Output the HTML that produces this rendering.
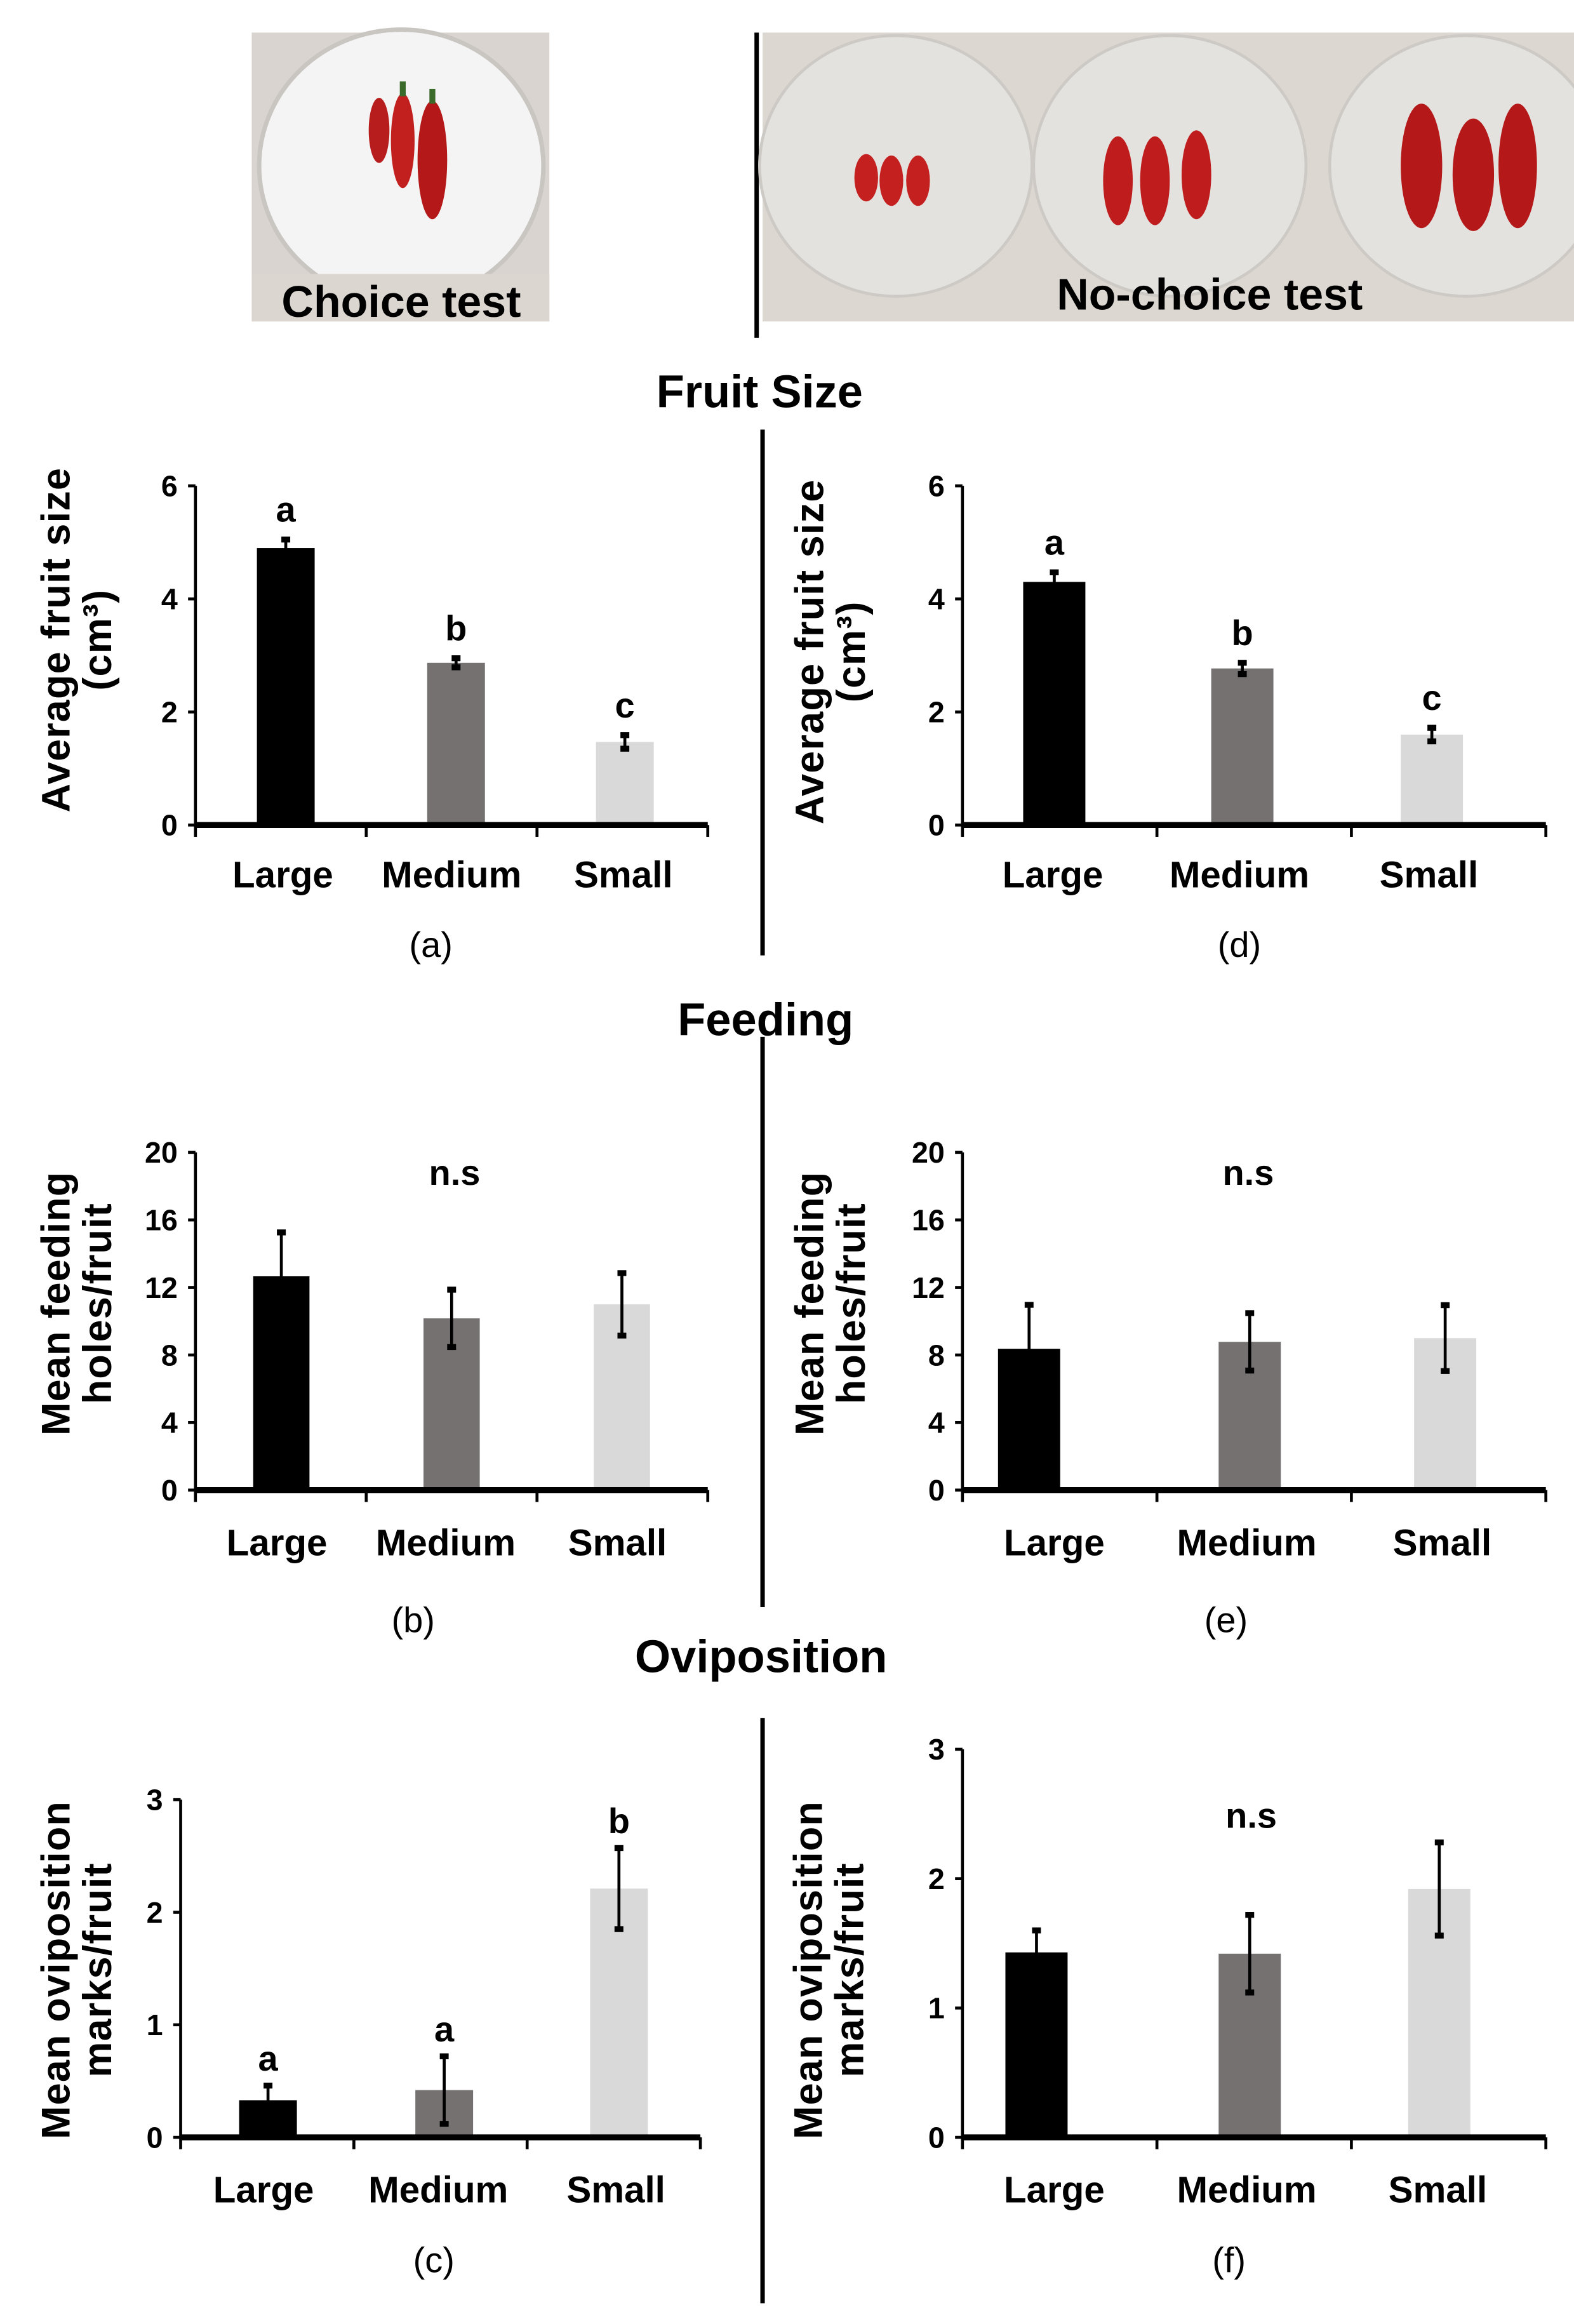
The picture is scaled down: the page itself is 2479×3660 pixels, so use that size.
<!DOCTYPE html>
<html><head><meta charset="utf-8"><style>
html,body{margin:0;padding:0;background:#fff}
svg{display:block}
text{font-family:"Liberation Sans",Arial,sans-serif;font-weight:bold;fill:#000}
text.plabel{font-weight:normal}
</style></head><body>
<svg id="fig" width="2479" height="3660" viewBox="0 0 1063 1569" preserveAspectRatio="none" xmlns="http://www.w3.org/2000/svg">
<g>
<rect x="170" y="22" width="201" height="195" fill="#d9d4cf"/>
<ellipse cx="271" cy="112" rx="96" ry="92" fill="#f4f4f4" stroke="#c9c6c2" stroke-width="3"/>
<ellipse cx="256" cy="88" rx="7" ry="22" fill="#b81d1d"/>
<ellipse cx="272" cy="95" rx="8" ry="32" fill="#c21f1f"/>
<ellipse cx="292" cy="108" rx="10" ry="40" fill="#b51818"/>
<rect x="270" y="55" width="4" height="10" fill="#3b6b2a"/><rect x="290" y="60" width="4" height="10" fill="#3b6b2a"/>
<rect x="170" y="185" width="201" height="32" fill="#dcd6d0"/>
<text x="271" y="214" font-size="30" text-anchor="middle">Choice test</text>
</g>
<line x1="511" y1="22" x2="511" y2="228" stroke="#000" stroke-width="3"/>
<g>
<rect x="515" y="22" width="548" height="195" fill="#dcd7d1"/>
<ellipse cx="605" cy="112" rx="92" ry="88" fill="#e4e2df" stroke="#cdcac6" stroke-width="2"/>
<ellipse cx="790" cy="112" rx="92" ry="88" fill="#e4e2df" stroke="#cdcac6" stroke-width="2"/>
<ellipse cx="990" cy="112" rx="92" ry="88" fill="#e4e2df" stroke="#cdcac6" stroke-width="2"/>
<ellipse cx="585" cy="120" rx="8" ry="16" fill="#c42020"/><ellipse cx="602" cy="122" rx="8" ry="17" fill="#c42020"/><ellipse cx="620" cy="122" rx="8" ry="17" fill="#c42020"/>
<ellipse cx="755" cy="122" rx="10" ry="30" fill="#bf1d1d"/><ellipse cx="780" cy="122" rx="10" ry="30" fill="#bf1d1d"/><ellipse cx="808" cy="118" rx="10" ry="30" fill="#bf1d1d"/>
<ellipse cx="960" cy="112" rx="14" ry="42" fill="#b51818"/><ellipse cx="995" cy="118" rx="14" ry="38" fill="#b51818"/><ellipse cx="1025" cy="112" rx="13" ry="42" fill="#b51818"/>
<text x="817" y="209" font-size="30" text-anchor="middle">No-choice test</text>
</g>
<text x="513" y="275" font-size="31" text-anchor="middle">Fruit Size</text>
<text x="517" y="699" font-size="31" text-anchor="middle">Feeding</text>
<text x="514" y="1129" font-size="31" text-anchor="middle">Oviposition</text>
<line x1="515" y1="290" x2="515" y2="645" stroke="#000" stroke-width="3"/>
<line x1="515" y1="700" x2="515" y2="1085" stroke="#000" stroke-width="3"/>
<line x1="515" y1="1160" x2="515" y2="1555" stroke="#000" stroke-width="3"/>
</svg>
<script>
const categories = ["Large","Medium","Small"];
const barColors = ["#000000","#757171","#d9d9d9"];
// panel a: fruit size, choice
const aValues = [4.9, 2.87, 1.47];
const aErrors = [0.15, 0.08, 0.12];
const aLetters = ["a","b","c"];
const aTicks = [0,2,4,6];
// panel d: fruit size, no-choice
const dValues = [4.3, 2.77, 1.6];
const dErrors = [0.17, 0.1, 0.12];
const dLetters = ["a","b","c"];
const dTicks = [0,2,4,6];
// panel b: feeding, choice
const bValues = [12.66, 10.17, 11.0];
const bErrors = [2.6, 1.7, 1.85];
const bTicks = [0,4,8,12,16,20];
// panel e: feeding, no-choice
const eValues = [8.37, 8.78, 9.0];
const eErrors = [2.6, 1.7, 1.95];
const eTicks = [0,4,8,12,16,20];
// panel c: oviposition, choice
const cValues = [0.33, 0.42, 2.21];
const cErrors = [0.13, 0.3, 0.36];
const cLetters = ["a","a","b"];
const cTicks = [0,1,2,3];
// panel f: oviposition, no-choice
const fValues = [1.43, 1.42, 1.92];
const fErrors = [0.17, 0.3, 0.36];
const fTicks = [0,1,2,3];

const svg = document.getElementById('fig');
const NS = 'http://www.w3.org/2000/svg';
function mk(tag, attrs, parent){const e=document.createElementNS(NS,tag);for(const k in attrs)e.setAttribute(k,attrs[k]);(parent||svg).appendChild(e);return e;}

function panel(p){
  const g = mk('g',{});
  
  
  const max = p.ticks[p.ticks.length-1];
  const y = v => p.y0 - (v/max)*(p.y0-p.yTop);
  const bw = (p.x1-p.x0)/categories.length;
  const xc = i => p.centers ? p.centers[i] : p.x0 + bw*(i+0.5);
  const ya = mk('line',{x1:p.x0,y1:p.yTop,x2:p.x0,y2:p.y0,stroke:'#000','stroke-width':2},g);
  
  
  p.ticks.forEach(t=>{
    mk('line',{x1:p.x0-5,y1:y(t),x2:p.x0,y2:y(t),stroke:'#000','stroke-width':2},g);
    const tl = mk('text',{x:p.x0-12,y:y(t)+7,'font-size':20,'text-anchor':'end'},g);
    tl.textContent = t;
    
    
  });
  p.values.forEach((v,i)=>{
    const w = p.barW;
    const r = mk('rect',{x:xc(i)-w/2,y:y(v),width:w,height:p.y0-y(v),fill:barColors[i]},g);
    
    
    const e = p.errors[i];
    const eg = mk('g',{stroke:'#000','stroke-width':2},g);
    
    
    mk('line',{x1:xc(i),y1:y(v+e),x2:xc(i),y2:y(v-e)},eg);
    mk('line',{x1:xc(i)-3,y1:y(v+e),x2:xc(i)+3,y2:y(v+e),'stroke-width':4},eg);
    mk('line',{x1:xc(i)-3,y1:y(v-e),x2:xc(i)+3,y2:y(v-e),'stroke-width':4},eg);
    if(p.letters){
      const lt = mk('text',{x:xc(i),y:y(v+e)-p.letterGap,'font-size':24,'text-anchor':'middle'},g);
      lt.textContent = p.letters[i];
      
      
    }
    const cl = mk('text',{x:p.labelX[i],y:p.labelY,'font-size':25,'text-anchor':'middle'},g);
    cl.textContent = categories[i];
    
    
  });
  const xa = mk('line',{x1:p.x0,y1:p.y0,x2:p.x1,y2:p.y0,stroke:'#000','stroke-width':4},g);
  
  
  for(let i=0;i<=categories.length;i++){
    mk('line',{x1:p.x0+bw*i,y1:p.y0,x2:p.x0+bw*i,y2:p.y0+8,stroke:'#000','stroke-width':2},g);
  }
  if(p.ns){
    const n = mk('text',{x:p.ns[0],y:p.ns[1],'font-size':24,'text-anchor':'middle'},g);
    n.textContent = 'n.s';
    
    
  }
  const yt = mk('text',{transform:`translate(${p.titleX},${p.titleY}) rotate(-90)`,'font-size':27,'text-anchor':'middle','letter-spacing':'0.5'},g);
  
  
  const t1 = mk('tspan',{x:0,y:0},yt); t1.textContent = p.title[0];
  const t2 = mk('tspan',{x:0,y:28},yt); t2.textContent = p.title[1];
  const pl = mk('text',{x:p.plX,y:p.plY,'font-size':24,'text-anchor':'middle','class':'plabel'},g);
  pl.textContent = '('+p.id+')';
  
  
}

panel({id:'a',values:aValues,errors:aErrors,letters:aLetters,ticks:aTicks,x0:132,x1:478,y0:557,yTop:328,barW:39,letterGap:12,
  centers:[193,308,422],labelX:[191,305,421],labelY:599,titleX:47,titleY:432,title:['Average fruit size','(cm³)'],plX:291,plY:646});
panel({id:'d',values:dValues,errors:dErrors,letters:dLetters,ticks:dTicks,x0:650,x1:1044,y0:557,yTop:328,barW:42,letterGap:12,
  centers:[712,839,967],labelX:[711,837,965],labelY:599,titleX:556,titleY:440,title:['Average fruit size','(cm³)'],plX:837,plY:646});
panel({id:'b',values:bValues,errors:bErrors,ticks:bTicks,x0:132,x1:478,y0:1006,yTop:778,barW:38,ns:[307,800],
  centers:[190,305,420],labelX:[187,301,417],labelY:1050,titleX:47,titleY:880,title:['Mean feeding','holes/fruit'],plX:279,plY:1102});
panel({id:'e',values:eValues,errors:eErrors,ticks:eTicks,x0:650,x1:1044,y0:1006,yTop:778,barW:42,ns:[843,800],
  centers:[695,844,976],labelX:[712,842,974],labelY:1050,titleX:556,titleY:880,title:['Mean feeding','holes/fruit'],plX:828,plY:1102});
panel({id:'c',values:cValues,errors:cErrors,letters:cLetters,ticks:cTicks,x0:122,x1:473,y0:1443,yTop:1215,barW:39,letterGap:10,
  centers:[181,300,418],labelX:[178,296,416],labelY:1487,titleX:47,titleY:1330,title:['Mean oviposition','marks/fruit'],plX:293,plY:1534});
panel({id:'f',values:fValues,errors:fErrors,ticks:fTicks,x0:650,x1:1044,y0:1443,yTop:1181,barW:42,ns:[845,1234],
  centers:[700,844,972],labelX:[712,842,971],labelY:1487,titleX:555,titleY:1330,title:['Mean oviposition','marks/fruit'],plX:830,plY:1534});
</script>
</body></html>
